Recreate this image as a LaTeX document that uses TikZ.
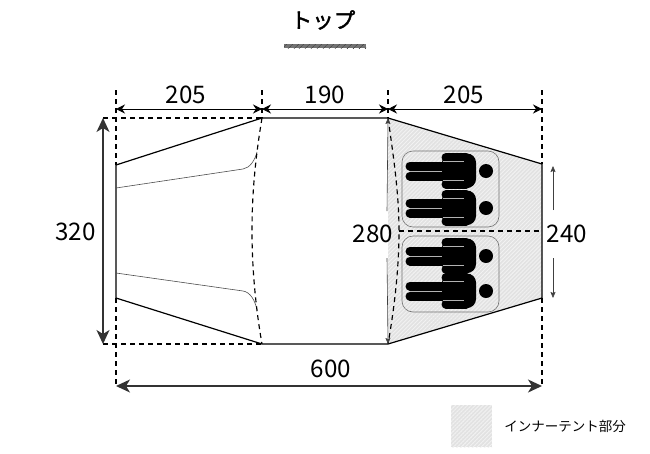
\documentclass[tikz,border=0pt]{standalone}
\usepackage{fontspec}
\setmainfont{Noto Sans CJK JP}
\newfontfamily\titlefont[FakeBold=1.8]{Noto Sans CJK JP}
\usetikzlibrary{arrows.meta,patterns.meta}
\definecolor{hatchgray}{HTML}{E2E2E2}
\tikzset{
  outline/.style={line width=1.2pt, black},
  dashline/.style={line width=1.15pt, dash pattern=on 5pt off 4pt, black},
  seam/.style={line width=0.6pt, black!70},
  dimline/.style={line width=1pt, {Stealth[length=9pt,width=9pt,inset=3pt]}-{Stealth[length=9pt,width=9pt,inset=3pt]}},
  bigdim/.style={line width=1.5pt, black!80, {Stealth[length=14pt,width=13pt,inset=4pt]}-{Stealth[length=14pt,width=13pt,inset=4pt]}},
  thinarrow/.style={line width=0.6pt, black!75, -{Stealth[length=6pt,width=5pt,inset=1pt]}},
  dimlabel/.style={font=\fontsize{24.2}{24.2}\selectfont, inner sep=0pt},
  innerfill/.style={fill=hatchgray, postaction={pattern={Lines[angle=45,distance=2.8pt,line width=0.9pt]}, pattern color=white!55!hatchgray}},
  bedbox/.style={rounded corners=11pt, draw=black!55, line width=0.6pt},
  limb/.style={line width=9pt, line cap=round, black},
  slit/.style={line width=0.8pt, black!30},
  person/.pic={
    \fill[black] (0,0) circle (7);
    \draw[limb] (-76,-5) -- (-44,-5);
    \draw[limb] (-76,5) -- (-44,5);
    \draw[limb] (-40,-13.5) -- (-20,-13.5);
    \draw[limb] (-40,13) -- (-20,13);
    \fill[black, rounded corners=9pt] (-44,-17.5) -- (-10,-17.5) -- (-10,17) -- (-44,17) -- cycle;
    \draw[slit] (-43,-9.5) -- (-22,-9.5);
    \draw[slit] (-43,9) -- (-22,9);
    \draw[slit] (-76,0) -- (-44,0);
  }
}
\begin{document}
\begin{tikzpicture}[x=1pt, y=-1pt]
  \useasboundingbox (0,0) rectangle (650,453);
  % corners of the shell
  \coordinate (lu) at (116,165);
  \coordinate (ld) at (116,298);
  \coordinate (mlu) at (262,118);
  \coordinate (mld) at (262,344);
  \coordinate (mru) at (388,118);
  \coordinate (mrd) at (388,344);
  \coordinate (ru) at (542,164);
  \coordinate (rd) at (542,298);
  % ends of the guide lines
  \coordinate (dimlu) at (103,118);
  \coordinate (dimld) at (103,344);
  \coordinate (a0) at (116,109);
  \coordinate (a1) at (262,109);
  \coordinate (a2) at (388,109);
  \coordinate (a3) at (542,109);
  \coordinate (b0) at (116,386);
  \coordinate (b1) at (542,386);
  \coordinate (t0) at (116,90);
  \coordinate (t1) at (262,90);
  \coordinate (t2) at (388,90);
  \coordinate (t3) at (542,90);
  \coordinate (midin) at (399,231);
  \coordinate (midout) at (542,231);

  % inner tent area
  \path[innerfill] (mru) -- (ru) -- (rd) -- (mrd) -- cycle;
  \draw[bedbox] (402,151) rectangle (499,227);
  \draw[bedbox] (402,236) rectangle (499,312);
  \pic at (486,171) {person};
  \pic at (486,208) {person};
  \pic at (486,256) {person};
  \pic at (486,291) {person};

  % shell
  \draw[outline] (lu) -- (mlu) -- (mru) -- (ru) -- (rd) -- (mrd) -- (mld) -- (ld) -- cycle;
  \draw[seam] (116,188) -- (243,169) .. controls (250,168) and (255,160) .. (257,152);
  \draw[seam] (116,273) -- (243,291) .. controls (250,292) and (255,300) .. (257,310);

  % dashed lines
  \draw[dashline] (dimlu) -- (mlu);
  \draw[dashline] (dimld) -- (mld);
  \draw[dashline] (t0) -- (lu);
  \draw[dashline] (ld) -- (b0);
  \draw[dashline] (t1) -- (mlu);
  \draw[dashline] (t2) -- (mru);
  \draw[dashline] (t3) -- (ru);
  \draw[dashline] (rd) -- (b1);
  \draw[dashline] (mlu) .. controls (255,160) and (252,195) .. (252,231) .. controls (252,270) and (256,310) .. (mld);
  \draw[dashline] (mru) .. controls (394,160) and (399,195) .. (midin) .. controls (399,270) and (394,310) .. (mrd);
  \draw[dashline] (midin) -- (midout);

  % dimensions
  \draw[dimline] (a0) -- (a1);
  \draw[dimline] (a1) -- (a2);
  \draw[dimline] (a2) -- (a3);
  \draw[bigdim] (dimlu) -- (dimld);
  \draw[bigdim] (b0) -- (b1);
  \draw[thinarrow] (387,211) -- (mru);
  \draw[thinarrow] (387,258) -- (mrd);
  \draw[thinarrow] (553,210) -- (553,166);
  \draw[thinarrow] (553,258) -- (553,298);

  \node[dimlabel] (w1) at (186,95) {205};
  \node[dimlabel] (w2) at (325,95) {190};
  \node[dimlabel] (w3) at (464,95) {205};
  \node[dimlabel] (h1) at (75.5,232) {320};
  \node[dimlabel] (h2) at (373,234) {280};
  \node[dimlabel] (h3) at (567,234) {240};
  \node[dimlabel] (w4) at (331,369) {600};

  % title and legend
  \node[font=\fontsize{21.5}{21.5}\titlefont, inner sep=0pt] (title) at (323,20) {トップ};
  \fill[black!55] (284,44) rectangle (366,48);
  \path[pattern={Lines[angle=45,distance=4pt,line width=0.8pt]}, pattern color=black!70] (284,44) rectangle (366,48);
  \path[innerfill] (451,405) rectangle (492,447);
  \node[font=\fontsize{13.5}{13.5}\selectfont, inner sep=0pt] (legend) at (565,426) {インナーテント部分};
\end{tikzpicture}
\end{document}
